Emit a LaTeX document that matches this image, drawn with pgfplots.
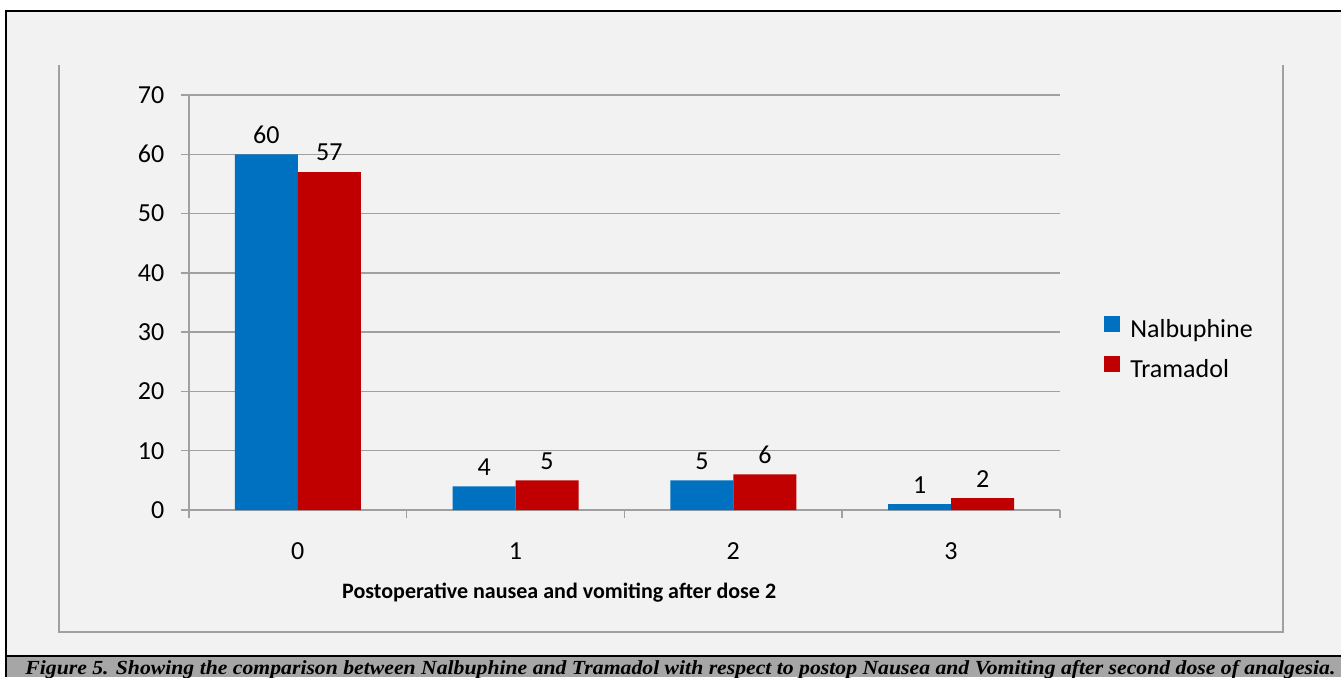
\documentclass[border=0pt]{standalone}
\usepackage{pgfplots}
\pgfplotsset{compat=1.18}
\usepackage{fontspec}
\setmainfont{Carlito}
\newfontfamily\capfont{Liberation Serif}
\definecolor{bg}{HTML}{F2F2F2}
\definecolor{capbg}{HTML}{A6A6A6}
\definecolor{gridc}{HTML}{A0A0A0}
\definecolor{nal}{HTML}{0070C0}
\definecolor{tra}{HTML}{C00000}
\begin{document}
\begin{tikzpicture}[x=0.5pt,y=0.5pt]
\useasboundingbox (0,0) rectangle (1341,677);
\fill[white] (0,0) rectangle (1341,677);
\fill[bg] (6,0) rectangle (1345,666);
% caption bar
\fill[capbg] (6,0) rectangle (1345,21);
\draw[black,line width=1.2pt] (6,21) -- (1345,21);
\draw[black,line width=1.2pt] (6,0) -- (6,666) -- (1345,666);
% inner chart frame (three sides)
\draw[gridc,line width=0.8pt] (59,612) -- (59,45) -- (1283,45) -- (1283,612);
\node[anchor=base west,inner sep=0pt] at (25,3) {\resizebox{655pt}{\height}{\capfont\bfseries\itshape\fontsize{10}{10}\selectfont Figure 5. Showing the comparison between Nalbuphine and Tramadol with respect to postop Nausea and Vomiting after second dose of analgesia.}};
\begin{axis}[
  at={(94.5pt,83.5pt)}, anchor=south west,
  scale only axis, width=435.5pt, height=207.5pt,
  xmin=-0.5, xmax=3.5, ymin=0, ymax=70,
  /pgf/number format/assume math mode=true,
  ybar=0pt, bar width=0.289,
  axis x line*=bottom, axis y line*=left,
  axis line style={gridc,line width=0.75pt,-},
  xtick={-0.5,0.5,1.5,2.5,3.5},
  xticklabels={0,1,2,3,},
  xticklabel style={xshift=54.4pt,yshift=-9pt,font=\fontsize{13}{15}\selectfont},
  ytick={0,10,...,70},
  yticklabel style={xshift=-4.8pt,font=\fontsize{13}{15}\selectfont},
  ymajorgrids, grid style={gridc,line width=0.75pt},
  tick align=outside, major tick length=4pt,
  tick style={gridc,line width=0.75pt},
  xlabel={\bfseries Postoperative nausea and vomiting after dose 2},
  xlabel style={at={(axis description cs:0.425,0)},anchor=center,yshift=-41.5pt,font=\fontsize{11}{13}\selectfont},
  nodes near coords,
  nodes near coords style={font=\fontsize{13}{15}\selectfont,black,yshift=2pt},
  legend style={at={(1.0505,0.385)},anchor=west,draw=none,fill=none,inner sep=0pt,row sep=5.5pt,font=\fontsize{13}{15}\selectfont,nodes={inner xsep=5pt}},
  legend cell align=left,
  legend image code/.code={\fill[#1] (0pt,-1pt) rectangle (8pt,7pt);},
]
\addplot[fill=nal,draw=none] coordinates {(0,60) (1,4) (2,5) (3,1)};
\addplot[fill=tra,draw=none] coordinates {(0,57) (1,5) (2,6) (3,2)};
\legend{Nalbuphine,Tramadol}
\end{axis}
\end{tikzpicture}
\end{document}
